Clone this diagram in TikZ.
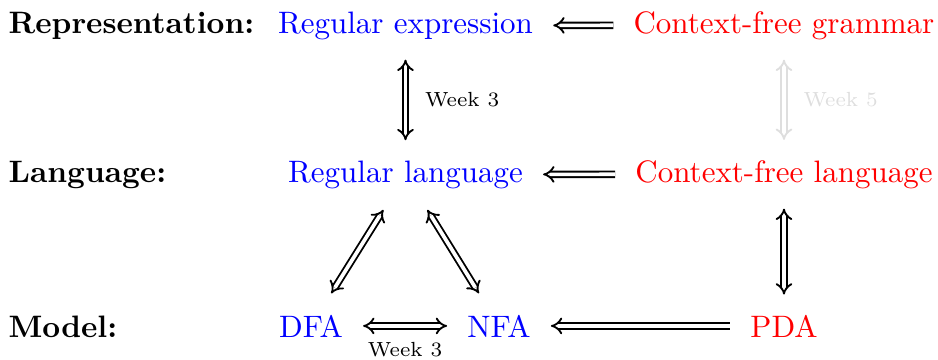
\documentclass[tikz,border=0pt]{standalone}
\usetikzlibrary{arrows.meta}
\begin{document}
\begin{tikzpicture}[x=0.32258pt, y=-0.32258pt,
  lbl/.style={anchor=base west, inner sep=0, font=\bfseries},
  itm/.style={anchor=base},
  reg/.style={itm, text=blue},
  cf/.style={itm, text=red},
  dbl/.style={semithick, double, double distance=1.2pt, shorten <=3pt, shorten >=3pt},
  both/.style={dbl, {Implies}-{Implies}},
  tol/.style={dbl, {Implies}-},
  diag/.style={shorten <=4pt, shorten >=4pt},
  faded/.style={draw=black!13, text=black!13},
  wk/.style={font=\fontsize{6.6}{8}\selectfont, inner sep=0}
]
\useasboundingbox (0,0) rectangle (938,359);
\node[lbl] (lrep) at (8,33) {Representation:};
\node[lbl] (llang) at (8,182) {Language:};
\node[lbl] (lmod) at (8,337) {Model:};
\node[reg] (re) at (405.5,33) {Regular expression};
\node[cf] (cfg) at (784,33) {Context-free grammar};
\node[reg] (rl) at (405.5,182) {Regular language};
\node[cf] (cfl) at (784,182) {Context-free language};
\node[reg] (dfa) at (311,337) {DFA};
\node[reg] (nfa) at (499,337) {NFA};
\node[cf] (pda) at (784,337) {PDA};

\draw[tol] (re) -- (cfg);
\draw[both] (re) -- node[wk, anchor=west, xshift=6pt] {Week 3} (rl);
\draw[both, faded] (cfg) -- node[wk, anchor=west, xshift=6pt] {Week 5} (cfl);
\draw[tol] (rl) -- (cfl);
\draw[both] (cfl) -- (pda);
\draw[both, diag] (rl) -- (dfa);
\draw[both, diag] (rl) -- (nfa);
\draw[both] (dfa) -- node[wk, anchor=north, yshift=-5pt] {Week 3} (nfa);
\draw[tol] (nfa) -- (pda);
\end{tikzpicture}
\end{document}
